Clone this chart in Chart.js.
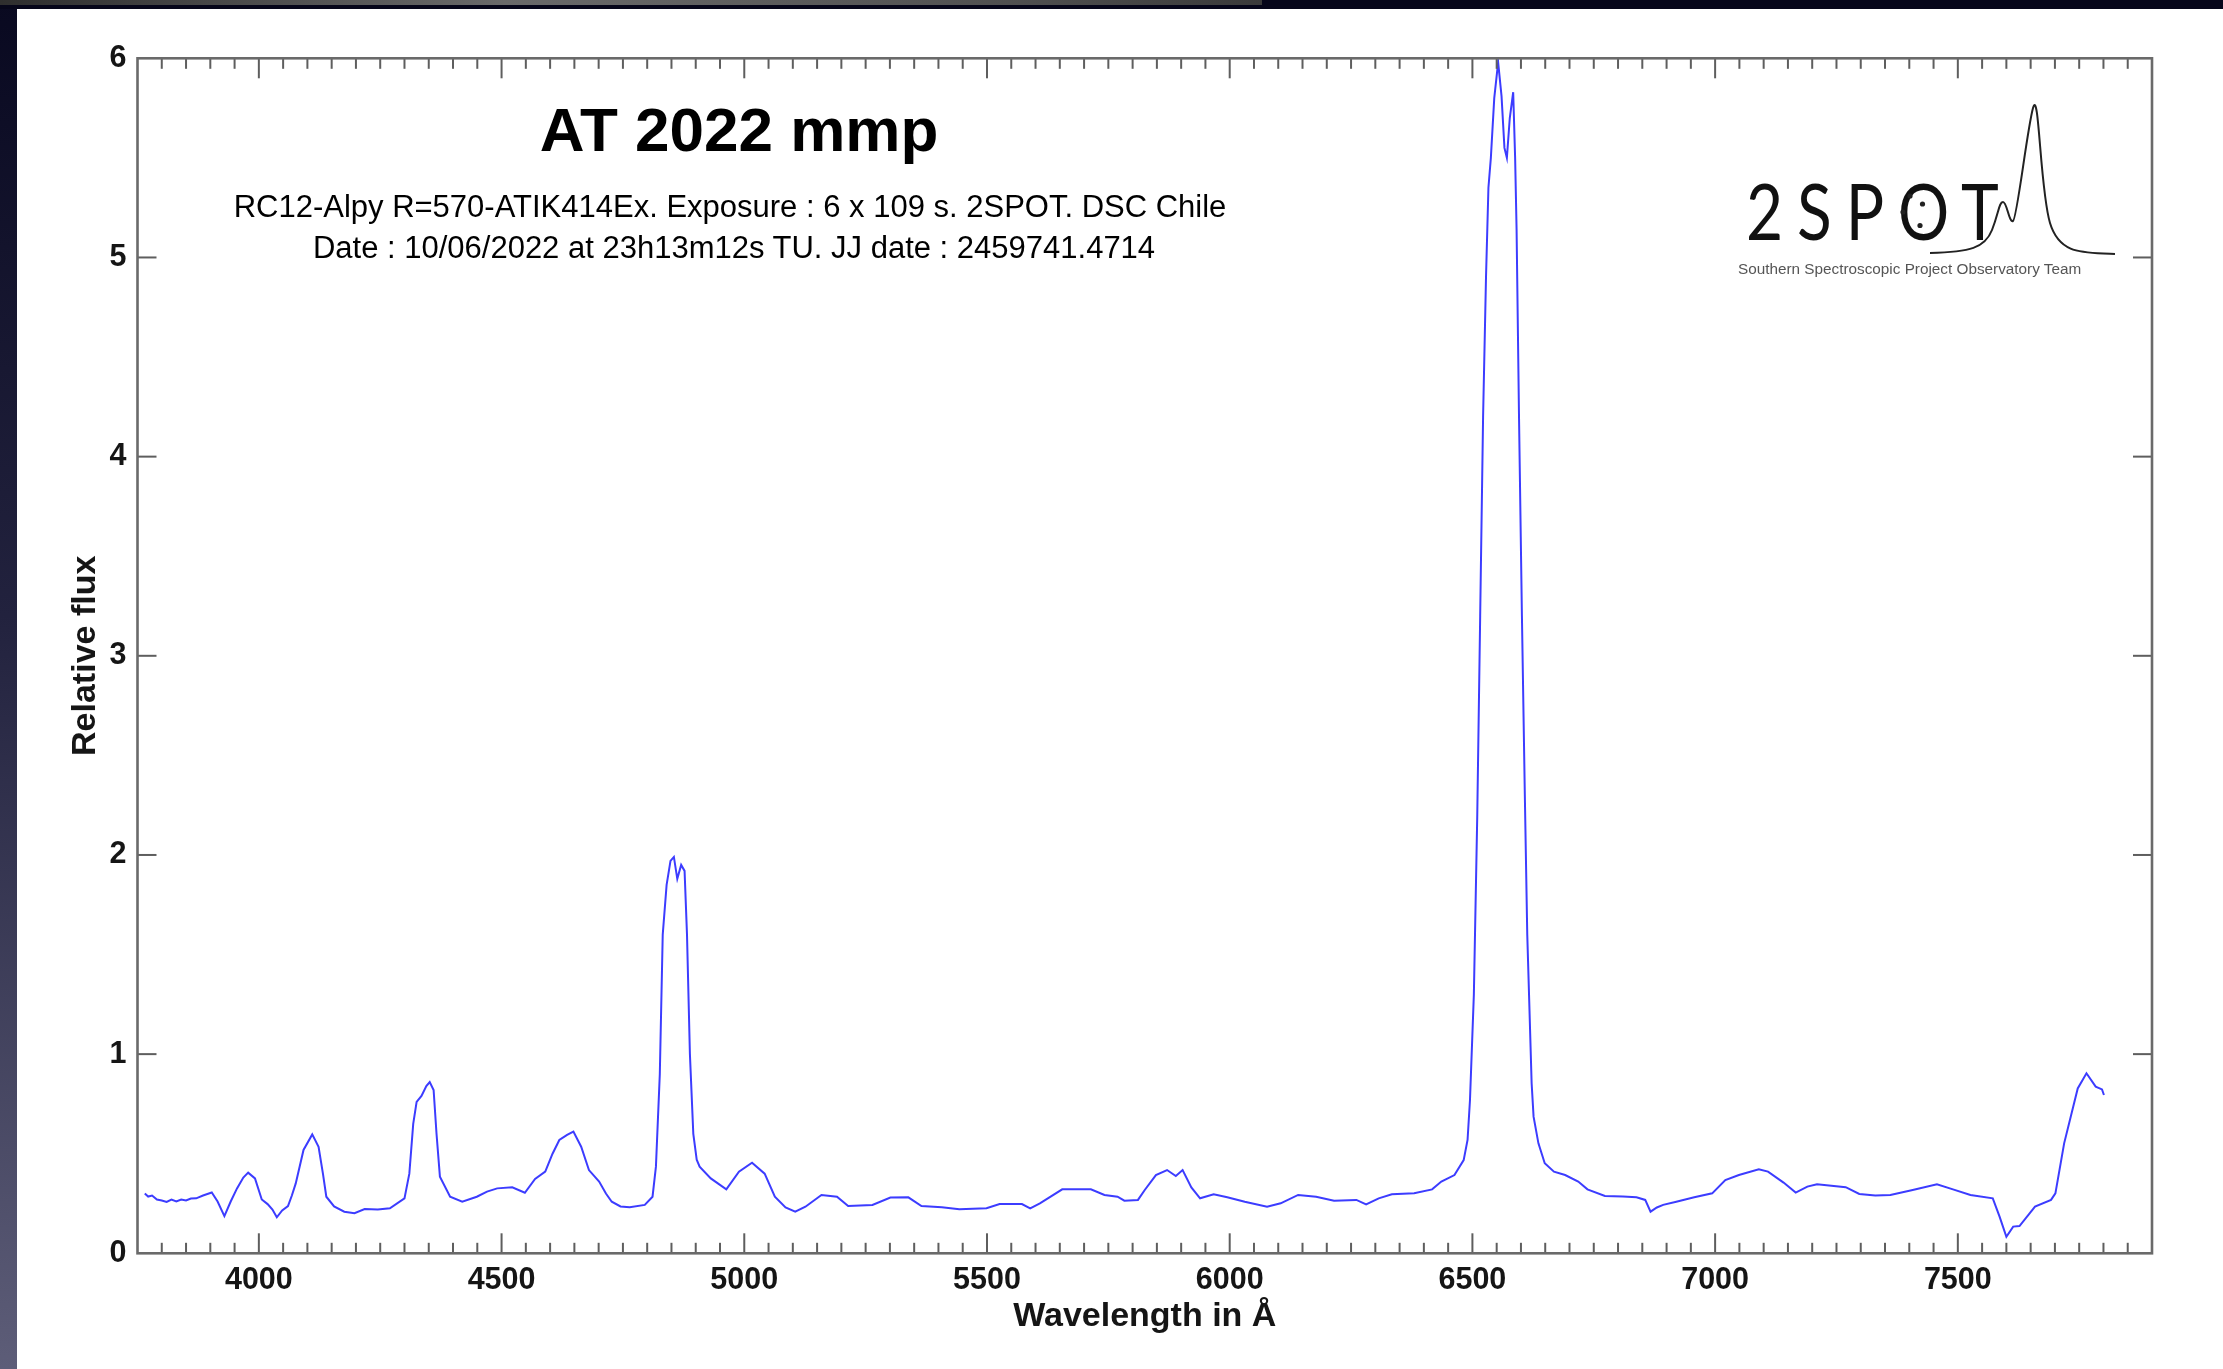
<!DOCTYPE html>
<html>
<head>
<meta charset="utf-8">
<script src="https://cdn.jsdelivr.net/npm/chart.js@4.4.1/dist/chart.umd.min.js"></script>
<style>
html,body{margin:0;padding:0;width:2223px;height:1369px;overflow:hidden;background:#fff;}
#leftbar{position:absolute;left:0;top:0;width:17px;height:1369px;background:linear-gradient(#090920,#22223e 45%,#5d5d78);}
#topbar{position:absolute;left:0;top:0;width:2223px;height:9px;background:#06061a;}
#topgray{position:absolute;left:0;top:0;width:1262px;height:5px;background:linear-gradient(90deg,#2e2e2e,#6a6a6a 40%,#505050 80%,#3a3a3a);}
#wrap{position:absolute;left:0;top:0;width:2223px;height:1369px;}
.t{position:absolute;white-space:nowrap;font-family:"Liberation Sans",Arial,sans-serif;color:#000;line-height:1;transform:translateX(-50%);}
#logo{position:absolute;left:1700px;top:80px;width:450px;height:220px;}
#logotxt{position:absolute;left:1746px;top:171px;font-family:Lato,"Open Sans",sans-serif;font-weight:400;font-size:78px;line-height:1;letter-spacing:17px;color:#111;transform:scaleX(0.82);transform-origin:left top;white-space:nowrap;}
#logosub{position:absolute;left:1738px;top:261px;font-family:"Liberation Sans",Arial,sans-serif;font-size:15.3px;line-height:1;color:#555;white-space:nowrap;}
</style>
</head>
<body>
<div id="leftbar"></div>
<div id="topbar"></div>
<div id="topgray"></div>
<div id="wrap"><canvas id="c"></canvas></div>
<div class="t" style="left:739px;top:99px;font-size:62px;font-weight:bold;">AT 2022 mmp</div>
<div class="t" style="left:730px;top:191px;font-size:31px;">RC12-Alpy R=570-ATIK414Ex. Exposure : 6 x 109 s. 2SPOT. DSC Chile</div>
<div class="t" style="left:734px;top:232px;font-size:31px;">Date : 10/06/2022 at 23h13m12s TU. JJ date : 2459741.4714</div>
<div id="logotxt">2SPOT</div>
<svg id="logo" viewBox="0 0 450 220" xmlns="http://www.w3.org/2000/svg">
  <path d="M230,173 C270,172 285,168 292,150 S299,122 303,122 S309,143 313,141 S327,50 333,28 S340,110 350,143 S385,172 415,174" fill="none" stroke="#222" stroke-width="2"/>
  <circle cx="210" cy="116" r="2.6" fill="#222"/>
  <circle cx="222.5" cy="124" r="2.6" fill="#222"/>
  <circle cx="203" cy="132" r="2.6" fill="#222"/>
  <circle cx="220" cy="145.5" r="2.6" fill="#222"/>
</svg>
<div id="logosub">Southern Spectroscopic Project Observatory Team</div>
<script>
// ---- data ----
const wavelength = [3765,3772,3780,3790,3800,3810,3820,3830,3840,3850,3860,3871,3885,3903,3915,3929,3942,3955,3968,3978,3992,4006,4018,4028,4037,4048,4060,4068,4076,4092,4110,4123,4132,4139,4155,4176,4197,4218,4245,4270,4300,4310,4318,4325,4335,4345,4352,4360,4366,4373,4394,4419,4449,4470,4491,4522,4548,4569,4590,4605,4619,4635,4648,4664,4680,4701,4715,4727,4745,4764,4795,4811,4818,4826,4832,4840,4848,4855,4862,4870,4877,4882,4888,4895,4902,4908,4931,4963,4989,5016,5042,5063,5085,5105,5126,5159,5191,5214,5264,5301,5338,5365,5407,5443,5499,5526,5572,5589,5609,5655,5714,5742,5769,5783,5811,5825,5848,5871,5889,5903,5921,5939,5967,5995,6031,6077,6105,6141,6178,6215,6261,6281,6307,6334,6380,6417,6436,6463,6482,6490,6495,6503,6510,6516,6522,6528,6533,6538,6545,6553,6560,6566,6571,6577,6584,6588,6591,6596,6602,6608,6613,6617,6622,6626,6636,6649,6668,6691,6718,6737,6773,6810,6838,6856,6867,6880,6893,6920,6957,6994,7021,7049,7090,7109,7141,7166,7190,7210,7269,7297,7330,7361,7407,7457,7490,7526,7572,7586,7600,7614,7627,7659,7692,7701,7719,7747,7765,7784,7797,7801];
const flux = [0.30,0.285,0.29,0.27,0.265,0.258,0.27,0.26,0.27,0.265,0.275,0.276,0.29,0.305,0.26,0.187,0.26,0.326,0.38,0.405,0.376,0.27,0.247,0.22,0.181,0.215,0.237,0.29,0.351,0.519,0.597,0.535,0.40,0.284,0.235,0.209,0.201,0.222,0.22,0.226,0.276,0.40,0.65,0.76,0.79,0.84,0.86,0.82,0.60,0.385,0.284,0.259,0.284,0.31,0.326,0.331,0.304,0.373,0.41,0.50,0.569,0.595,0.611,0.535,0.418,0.36,0.30,0.259,0.235,0.231,0.243,0.284,0.435,0.90,1.60,1.85,1.97,1.99,1.88,1.95,1.92,1.60,1.00,0.60,0.47,0.435,0.376,0.321,0.41,0.455,0.40,0.284,0.23,0.209,0.234,0.293,0.284,0.237,0.243,0.28,0.281,0.237,0.231,0.221,0.226,0.247,0.247,0.226,0.251,0.321,0.321,0.293,0.284,0.264,0.268,0.318,0.393,0.418,0.388,0.418,0.331,0.276,0.296,0.281,0.259,0.234,0.251,0.293,0.284,0.264,0.268,0.246,0.276,0.296,0.301,0.321,0.36,0.393,0.468,0.569,0.77,1.30,2.20,3.20,4.20,4.90,5.35,5.50,5.80,5.98,5.81,5.55,5.50,5.70,5.83,5.50,5.14,4.20,3.20,2.30,1.60,1.27,0.854,0.686,0.552,0.452,0.41,0.393,0.36,0.321,0.288,0.285,0.281,0.268,0.209,0.23,0.243,0.259,0.281,0.301,0.368,0.393,0.422,0.41,0.355,0.305,0.335,0.347,0.332,0.298,0.29,0.293,0.318,0.347,0.321,0.293,0.276,0.184,0.083,0.134,0.137,0.234,0.268,0.301,0.552,0.828,0.904,0.837,0.823,0.795];
const xTickValues = [4000,4500,5000,5500,6000,6500,7000,7500];
const yTickValues = [0,1,2,3,4,5,6];
const xMin = 3750, xMax = 7900, xMinorStep = 50, xMajorStep = 500;
const yMin = 0, yMax = 6;

const frame = {
  id: 'frame',
  afterDatasetsDraw(chart) {
    const {ctx, chartArea: a, scales: {x, y}} = chart;
    ctx.save();
    ctx.strokeStyle = '#5e5e5e';
    ctx.lineWidth = 2;
    const seg = (x1, y1, x2, y2) => { ctx.beginPath(); ctx.moveTo(x1, y1); ctx.lineTo(x2, y2); ctx.stroke(); };
    for (let v = xMin + xMinorStep; v < xMax; v += xMinorStep) {
      const px = x.getPixelForValue(v);
      const len = (v % xMajorStep === 0) ? 20 : 10.5;
      seg(px, a.bottom, px, a.bottom - len);
      seg(px, a.top, px, a.top + len);
    }
    yTickValues.forEach(v => {
      if (v <= yMin || v >= yMax) return;
      const py = y.getPixelForValue(v);
      seg(a.left, py, a.left + 19, py);
      seg(a.right, py, a.right - 19, py);
    });
    ctx.strokeStyle = '#6a6a6a';
    ctx.lineWidth = 2.6;
    ctx.strokeRect(a.left, a.top, a.right - a.left, a.bottom - a.top);
    ctx.restore();
  }
};

const tickFont = {family: '"Liberation Sans", Arial, sans-serif', size: 30.5, weight: 'bold'};
const titleFont = {family: '"Liberation Sans", Arial, sans-serif', size: 34, weight: 'bold'};

new Chart(document.getElementById('c'), {
  type: 'line',
  data: {
    datasets: [{
      data: wavelength.map((w, i) => ({x: w, y: flux[i]})),
      borderColor: '#3c3cff',
      borderWidth: 2,
      pointRadius: 0,
      tension: 0,
      fill: false
    }]
  },
  options: {
    responsive: true,
    maintainAspectRatio: false,
    animation: false,
    layout: {padding: {top: 58.3, right: 71, left: 0, bottom: 0}},
    plugins: {legend: {display: false}, tooltip: {enabled: false}},
    scales: {
      x: {
        type: 'linear', position: 'bottom', min: xMin, max: xMax,
        afterBuildTicks: s => { s.ticks = xTickValues.map(v => ({value: v})); },
        afterFit: s => { s.height = 115.7; },
        grid: {display: false, drawTicks: false},
        border: {display: false},
        ticks: {padding: 9.4, color: '#151515', font: tickFont, maxRotation: 0, autoSkip: false, callback: v => String(v)},
        title: {display: true, text: 'Wavelength in Å', color: '#151515', font: titleFont, padding: {top: 0, bottom: 31.6}}
      },
      y: {
        type: 'linear', position: 'left', min: yMin, max: yMax,
        afterBuildTicks: s => { s.ticks = yTickValues.map(v => ({value: v})); },
        afterFit: s => { s.width = 137.5; },
        grid: {display: false, drawTicks: false},
        border: {display: false},
        ticks: {padding: 11, color: '#151515', font: tickFont, callback: v => String(v)},
        title: {display: true, text: 'Relative flux', color: '#151515', font: titleFont, padding: {top: 65.6, bottom: 0}}
      }
    }
  },
  plugins: [frame]
});
</script>
</body>
</html>
